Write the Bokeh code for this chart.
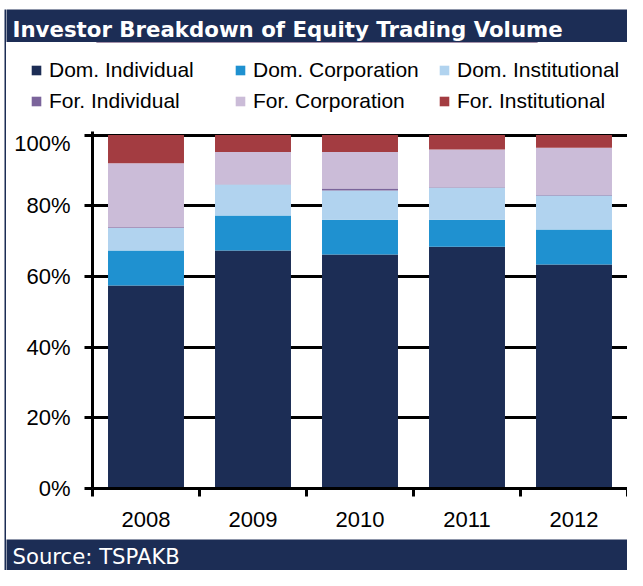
from bokeh.plotting import figure
from bokeh.layouts import row, column, Spacer
from bokeh.models import (ColumnDataSource, Range1d, FixedTicker, PrintfTickFormatter,
                          Legend, LegendItem, Label)
from bokeh.embed import file_html
from bokeh.resources import INLINE

# ---------------- data ----------------
years = ["2008", "2009", "2010", "2011", "2012"]
dom_ind = [57.4, 67.3, 66.2, 68.4, 63.4]
dom_corp = [9.9, 9.9, 9.8, 7.6, 9.9]
dom_inst = [6.4, 8.8, 8.3, 9.1, 9.6]
for_ind = [0.2, 0.1, 0.6, 0.1, 0.1]
for_corp = [18.1, 9.1, 10.3, 10.7, 13.4]
for_inst = [8.0, 4.8, 4.8, 4.1, 3.6]

series_names = ["Dom. Individual", "Dom. Corporation", "Dom. Institutional",
                "For. Individual", "For. Corporation", "For. Institutional"]
series_keys = ["dom_ind", "dom_corp", "dom_inst", "for_ind", "for_corp", "for_inst"]
colors = ["#1c2d55", "#1f91d0", "#b1d3ef", "#7b649b", "#cbbcd8", "#a33c41"]
y_ticks = [0, 20, 40, 60, 80, 100]
title_text = "Investor Breakdown of Equity Trading Volume"
source_text = "Source: TSPAKB"

NAVY = "#1c2d55"

x_pos = [i + 0.5 for i in range(len(years))]
boundaries = [float(i) for i in range(len(years) + 1)]
source = ColumnDataSource(dict(x=x_pos, dom_ind=dom_ind, dom_corp=dom_corp, dom_inst=dom_inst,
                               for_ind=for_ind, for_corp=for_corp, for_inst=for_inst))

W, H = 627, 570
LEFT_GAP, TOP_GAP, STRIP = 4, 9, 2
INNER = W - LEFT_GAP - STRIP          # 621
TITLE_H, LEG_H, SRC_H = 33, 88, 31
MAIN_H = H - TOP_GAP - TITLE_H - LEG_H - SRC_H   # 409


def blank(w, h, fill, yr=(0, 1)):
    f = figure(width=w, height=h, x_range=Range1d(0, 1), y_range=Range1d(*yr),
               toolbar_location=None, output_backend="svg", min_border=0,
               x_axis_location=None, y_axis_location=None,
               background_fill_color=fill, border_fill_color=fill,
               outline_line_color=None, frame_align=False)
    f.grid.visible = False
    return f


def banner(h, text, bold, size, x, y):
    f = blank(INNER, h, NAVY)
    f.add_layout(Label(x=x, y=y, x_units="screen", y_units="screen", text=text,
                       text_color="white", text_font="DejaVu Sans",
                       text_font_style="bold" if bold else "normal",
                       text_font_size=size, text_baseline="middle"))
    return f


top = banner(TITLE_H, title_text, True, "21.3px", 6, 13)
bottom = banner(SRC_H, source_text, False, "21.2px", 6, 14)
strip = blank(STRIP, H - TOP_GAP, NAVY)

# ---------------- main chart ----------------
p = figure(width=INNER, height=MAIN_H, x_range=Range1d(0, 5.0), y_range=Range1d(0, 101),
           toolbar_location=None, output_backend="svg", frame_align=False,
           min_border_left=86, min_border_right=0, min_border_top=1, min_border_bottom=51,
           outline_line_color=None, background_fill_color="white", border_fill_color="white")

renderers = p.vbar_stack(series_keys, x="x", width=0.71, source=source,
                         fill_color=colors, line_color=None)

# y axis
p.yaxis.ticker = FixedTicker(ticks=y_ticks)
p.yaxis.formatter = PrintfTickFormatter(format="%d%%")
p.yaxis.axis_line_width = 3
p.yaxis.axis_line_color = "black"
p.yaxis.major_tick_line_width = 3
p.yaxis.major_tick_line_color = "black"
p.yaxis.major_tick_out = 8
p.yaxis.major_tick_in = 0
p.yaxis.minor_tick_line_color = None
p.yaxis.major_label_standoff = 14
p.yaxis.major_label_text_font = "Liberation Sans"
p.yaxis.major_label_text_font_size = "22px"
p.yaxis.major_label_text_color = "black"

p.ygrid.grid_line_color = "black"
p.ygrid.grid_line_width = 3
p.xgrid.visible = False

# x axis: labels at bar centres, tick marks at category boundaries
p.xaxis.ticker = FixedTicker(ticks=x_pos, minor_ticks=boundaries)
p.xaxis.major_label_overrides = {x: y for x, y in zip(x_pos, years)}
p.xaxis.axis_line_width = 3
p.xaxis.axis_line_color = "black"
p.xaxis.major_tick_line_color = None
p.xaxis.major_tick_out = 0
p.xaxis.major_tick_in = 0
p.xaxis.minor_tick_out = 8
p.xaxis.minor_tick_in = 0
p.xaxis.minor_tick_line_width = 3
p.xaxis.minor_tick_line_color = "black"
p.xaxis.major_label_standoff = 15
p.xaxis.major_label_text_font = "Liberation Sans"
p.xaxis.major_label_text_font_size = "22px"
p.xaxis.major_label_text_color = "black"

# ---------------- legend band ----------------
# the same stacked bars, drawn outside this band's visible y range, feed the legend swatches
leg = blank(INNER, LEG_H, "white", yr=(-2, -1))
proxies = leg.vbar_stack(series_keys, x="x", width=0.71, source=source,
                         fill_color=colors, line_color=None)
col_pairs = [(0, 3), (1, 4), (2, 5)]
col_x = [24, 228, 432]
for (a, b), vx in zip(col_pairs, col_x):
    lg = Legend(items=[LegendItem(label=series_names[a], renderers=[proxies[a]]),
                       LegendItem(label=series_names[b], renderers=[proxies[b]])],
                location=(vx, 14), orientation="vertical",
                glyph_width=12, glyph_height=12, label_standoff=7, spacing=0,
                padding=0, margin=0, label_height=31,
                border_line_color=None, background_fill_alpha=0,
                label_text_font="Liberation Sans", label_text_font_size="21px",
                label_text_color="black")
    leg.add_layout(lg, "center")

layout = row(
    Spacer(width=LEFT_GAP, height=H),
    column(
        Spacer(width=W - LEFT_GAP, height=TOP_GAP),
        row(strip, column(top, leg, p, bottom, spacing=0), spacing=0),
        spacing=0),
    spacing=0)

open("out.html", "w").write(file_html(layout, INLINE))
